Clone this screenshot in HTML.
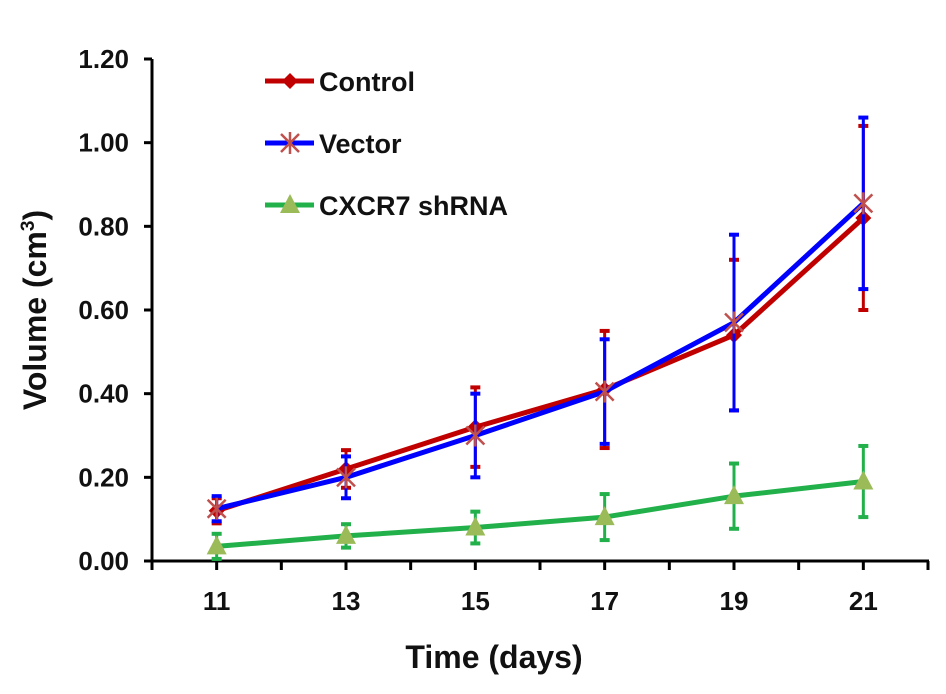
<!DOCTYPE html>
<html><head><meta charset="utf-8"><style>
body{margin:0;background:#fff;}
svg text{font-family:"Liberation Sans",Arial,sans-serif;font-weight:bold;fill:#111;}
</style></head><body>
<svg id="chart" width="946" height="689" viewBox="0 0 946 689"></svg>
<script>
const days=[11,13,15,17,19,21];
const controlVals=[0.12,0.22,0.32,0.41,0.54,0.82];
const controlErr=[0.03,0.045,0.095,0.14,0.18,0.22];
const vectorVals=[0.125,0.20,0.30,0.405,0.57,0.855];
const vectorErr=[0.03,0.05,0.10,0.125,0.21,0.205];
const shVals=[0.035,0.06,0.08,0.105,0.155,0.19];
const shErr=[0.03,0.028,0.038,0.055,0.078,0.085];
const yTicks=[0,0.2,0.4,0.6,0.8,1.0,1.2];
const xTickLabels=[11,13,15,17,19,21];

const svg=document.getElementById('chart');
const NS='http://www.w3.org/2000/svg';
const X=d=>152+(d-10)*(928-152)/12;
const Y=v=>561-v*(561-59)/1.2;
function mk(tag,attrs,parent){const e=document.createElementNS(NS,tag);for(const k in attrs)e.setAttribute(k,attrs[k]);(parent||svg).appendChild(e);return e;}

const axes=mk('g',{});


mk('line',{x1:152,y1:59,x2:152,y2:562,stroke:'#000','stroke-width':3},axes);
mk('line',{x1:151,y1:561,x2:929,y2:561,stroke:'#000','stroke-width':3},axes);
yTicks.forEach(v=>{
  mk('line',{x1:144,y1:Y(v),x2:152,y2:Y(v),stroke:'#000','stroke-width':3},axes);
  const t=mk('text',{x:129,y:Y(v)+9,'text-anchor':'end','font-size':26},axes);
  t.textContent=v.toFixed(2);
  
  
});
for(let d=10;d<=22;d++){mk('line',{x1:X(d),y1:561,x2:X(d),y2:570,stroke:'#000','stroke-width':3},axes);}
xTickLabels.forEach(d=>{
  const t=mk('text',{x:X(d),y:610,'text-anchor':'middle','font-size':26},axes);
  t.textContent=d;
  
  
});
const xt=mk('text',{x:494,y:668,'text-anchor':'middle','font-size':32});
xt.textContent='Time (days)';


const yt=mk('text',{transform:'translate(46,310) rotate(-90)','text-anchor':'middle','font-size':32});
yt.innerHTML='Volume (cm<tspan font-size="19" dy="-12">3</tspan><tspan dy="12">)</tspan>';



function marker(type,x,y,g){
  if(type==='diamond')mk('polygon',{points:`${x},${y-8} ${x+8},${y} ${x},${y+8} ${x-8},${y}`,fill:'#c00000'},g);
  else if(type==='star'){const c='#c0504d';mk('line',{x1:x-9,y1:y-9,x2:x+9,y2:y+9,stroke:c,'stroke-width':2.5},g);mk('line',{x1:x-9,y1:y+9,x2:x+9,y2:y-9,stroke:c,'stroke-width':2.5},g);mk('line',{x1:x,y1:y-11,x2:x,y2:y+11,stroke:c,'stroke-width':2.5},g);}
  else mk('polygon',{points:`${x},${y-11} ${x+10},${y+8} ${x-10},${y+8}`,fill:'#9bbb59'},g);
}
function series(name,vals,errs,color,mtype){
  const g=mk('g',{});
  
  
  days.forEach((d,i)=>{
    const x=X(d),t=Y(vals[i]+errs[i]),b=Y(vals[i]-errs[i]);
    mk('line',{x1:x,y1:t,x2:x,y2:b,stroke:color,'stroke-width':3},g);
    mk('line',{x1:x-5,y1:t,x2:x+5,y2:t,stroke:color,'stroke-width':4},g);
    mk('line',{x1:x-5,y1:b,x2:x+5,y2:b,stroke:color,'stroke-width':4},g);
  });
  mk('polyline',{points:days.map((d,i)=>X(d)+','+Y(vals[i])).join(' '),fill:'none',stroke:color,'stroke-width':5,'stroke-linejoin':'round'},g);
  days.forEach((d,i)=>marker(mtype,X(d),Y(vals[i]),g));
}
series('series-control',controlVals,controlErr,'#c00000','diamond');
series('series-vector',vectorVals,vectorErr,'#0000ff','star');
series('series-cxcr7-shrna',shVals,shErr,'#22b04b','triangle');

const legend=[['Control','#c00000','diamond',81],['Vector','#0000ff','star',143],['CXCR7 shRNA','#22b04b','triangle',205]];
legend.forEach(([lab,c,m,y])=>{
  const g=mk('g',{});
  
  
  mk('line',{x1:265,y1:y,x2:314,y2:y,stroke:c,'stroke-width':5},g);
  marker(m,290,y,g);
  const t=mk('text',{x:319,y:y+10,'font-size':27},g);
  t.textContent=lab;
});
</script>
</body></html>
